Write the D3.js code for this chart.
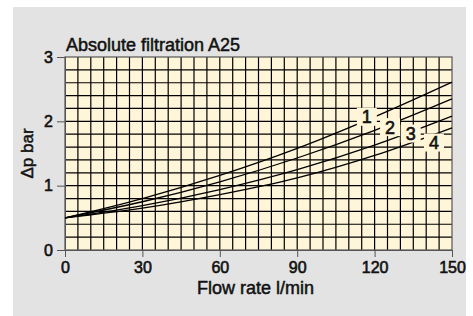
<!DOCTYPE html>
<html>
<head>
<meta charset="utf-8">
<script src="https://cdn.jsdelivr.net/npm/d3@7"></script>
<style>
  body { margin: 0; background: #fff; }
  svg text { font-family: "Liberation Sans Narrow", "Liberation Sans", Arial, sans-serif; fill: #111; }
</style>
</head>
<body>
<svg id="chart"></svg>
<script>
// flow rate (l/min)
var flow = [0, 30, 60, 90, 120, 150];
// pressure drop (bar) for the four curves
var curve1 = [0.50, 0.80, 1.16, 1.58, 2.07, 2.61];
var curve2 = [0.50, 0.75, 1.06, 1.43, 1.86, 2.35];
var curve3 = [0.50, 0.69, 0.94, 1.25, 1.63, 2.08];
var curve4 = [0.50, 0.65, 0.86, 1.12, 1.47, 1.90];
var curveNames = ["1", "2", "3", "4"];
// where the curve numbers sit (flow, bar)
var labelFlow = [117, 126, 134, 143];
var labelBar = [2.07, 1.91, 1.81, 1.67];
var xTicks = [0, 30, 60, 90, 120, 150];
var yTicks = [0, 1, 2, 3];

var width = 473, height = 316;
var margin = {top: 57, right: 21, bottom: 66, left: 65};

var svg = d3.select("#chart").attr("width", width).attr("height", height);

// grey panel
svg.append("rect")
    .attr("x", 13).attr("y", 7)
    .attr("width", 453).attr("height", height - 7)
    .attr("fill", "#e3e3e3");

var x = d3.scaleLinear().domain([0, 150]).range([margin.left, width - margin.right]);
var y = d3.scaleLinear().domain([0, 3]).range([height - margin.bottom, margin.top]);

svg.append("rect")
    .attr("x", x(0)).attr("y", y(3))
    .attr("width", x(150) - x(0)).attr("height", y(0) - y(3))
    .attr("fill", "#fff5d8");

// grid
var grid = svg.append("g").attr("stroke", "#000").attr("stroke-width", 1.2);
grid.selectAll("line.v")
    .data(d3.range(5, 150, 5))
    .enter().append("line")
    .attr("x1", function(d) { return x(d); })
    .attr("x2", function(d) { return x(d); })
    .attr("y1", y(0)).attr("y2", y(3));
grid.selectAll("line.h")
    .data(d3.range(1, 15).map(function(i) { return i * 0.2; }))
    .enter().append("line")
    .attr("y1", function(d) { return y(d); })
    .attr("y2", function(d) { return y(d); })
    .attr("x1", x(0)).attr("x2", x(150));

// frame
svg.append("rect")
    .attr("x", x(0)).attr("y", y(3))
    .attr("width", x(150) - x(0)).attr("height", y(0) - y(3))
    .attr("fill", "none").attr("stroke", "#555").attr("stroke-width", 1.2);

// axes
var xAxis = svg.append("g")
    .attr("transform", "translate(0," + y(0) + ")")
    .call(d3.axisBottom(x).tickValues(xTicks).tickSize(7).tickPadding(5));
var yAxis = svg.append("g")
    .attr("transform", "translate(" + x(0) + ",0)")
    .call(d3.axisLeft(y).tickValues(yTicks).tickSize(8).tickPadding(4).tickFormat(d3.format("d")));
[xAxis, yAxis].forEach(function(a) {
    a.select(".domain").attr("stroke", "#555");
    a.selectAll(".tick line").attr("stroke", "#555");
    a.selectAll(".tick text")
        .attr("font-size", 16)
        .attr("fill", "#111")
        .attr("stroke", "#111").attr("stroke-width", 0.6)
        .attr("font-family", "Liberation Sans Narrow, Liberation Sans, sans-serif");
});

// curves
var series = [curve1, curve2, curve3, curve4];
var line = d3.line()
    .x(function(d, i) { return x(flow[i]); })
    .y(function(d) { return y(d); })
    .curve(d3.curveMonotoneX);

svg.selectAll("path.curve")
    .data(series)
    .enter().append("path")
    .attr("class", "curve")
    .attr("d", line)
    .attr("fill", "none")
    .attr("stroke", "#000")
    .attr("stroke-width", 1.3);

// curve numbers on cream patches
var labels = svg.selectAll("g.lbl")
    .data(curveNames)
    .enter().append("g")
    .attr("transform", function(d, i) {
        return "translate(" + x(labelFlow[i]) + "," + y(labelBar[i]) + ")";
    });
labels.append("rect")
    .attr("x", -10).attr("y", -9)
    .attr("width", 20).attr("height", 18)
    .attr("fill", "#fff5d8");
labels.append("text")
    .attr("text-anchor", "middle")
    .attr("dy", "0.36em")
    .attr("font-size", 18)
    .attr("stroke", "#111").attr("stroke-width", 0.6)
    .text(function(d) { return d; });

// titles
svg.append("text")
    .attr("x", 66).attr("y", 51)
    .attr("font-size", 18)
    .attr("stroke", "#111").attr("stroke-width", 0.5)
    .text("Absolute filtration A25");

svg.append("text")
    .attr("x", (x(0) + x(150)) / 2 - 3).attr("y", 294)
    .attr("text-anchor", "middle")
    .attr("font-size", 18)
    .attr("stroke", "#111").attr("stroke-width", 0.5)
    .text("Flow rate l/min");

svg.append("text")
    .attr("transform", "translate(33," + (y(0) + y(3)) / 2 + ") rotate(-90)")
    .attr("text-anchor", "middle")
    .attr("font-size", 17)
    .attr("stroke", "#111").attr("stroke-width", 0.5)
    .text("Δp bar");
</script>
</body>
</html>
